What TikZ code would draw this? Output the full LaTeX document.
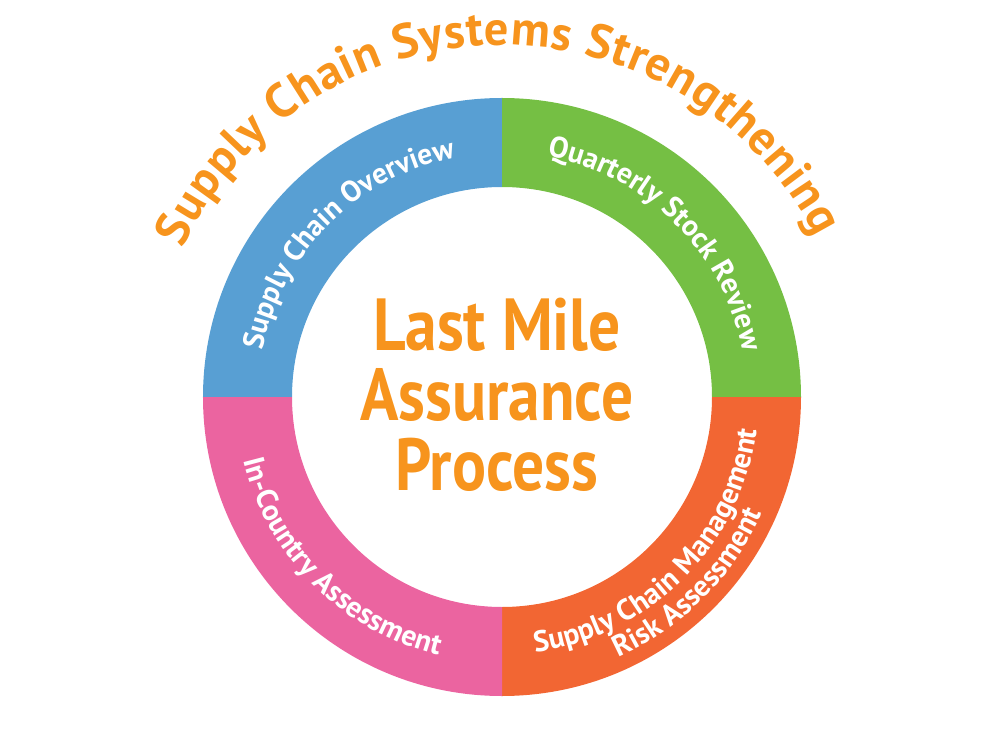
\documentclass[tikz,border=0pt]{standalone}
\usepackage{fontspec}
\setmainfont{PT Sans}
\newfontfamily\ringfamily{PT Sans}
\newfontfamily\corefamily{PT Sans}[FakeStretch=0.86]
\usetikzlibrary{decorations.text,positioning}
\definecolor{overviewblue}{HTML}{589FD3}
\definecolor{stockgreen}{HTML}{75BF44}
\definecolor{riskorange}{HTML}{F26633}
\definecolor{countrypink}{HTML}{EB64A0}
\definecolor{titleorange}{HTML}{F7941D}
\newcommand{\bandfont}{\ringfamily\bfseries\fontsize{16.8pt}{18pt}\selectfont}
\newcommand{\titlefont}{\ringfamily\bfseries\fontsize{27.5pt}{30pt}\selectfont}

\begin{document}
\begin{tikzpicture}[
  x=0.02cm,y=0.02cm,
  bandtext/.style={decorate,decoration={text along path,text align=center,
    text={|\bandfont\color{white}|#1}}},
  arctitle/.style={decorate,decoration={text along path,text align=fit to path,
    text={|\titlefont\color{titleorange}|#1}}},
  core/.style={align=center,text=titleorange,
    font=\corefamily\bfseries\fontsize{42pt}{40pt}\selectfont}
]
\useasboundingbox (-502,-353) rectangle (498,397);

% ring quarters
\fill[overviewblue] (180:299) arc (180:90:299) -- (90:210) arc (90:180:210) -- cycle;
\fill[stockgreen] (90:299) arc (90:0:299) -- (0:210) arc (0:90:210) -- cycle;
\fill[riskorange] (0:299) arc (0:-90:299) -- (-90:210) arc (-90:0:210) -- cycle;
\fill[countrypink] (-90:299) arc (-90:-180:299) -- (-180:210) arc (-180:-90:210) -- cycle;

% labels along the ring
\path[bandtext={Supply Chain Overview}] (180:244) arc (180:90:244);
\path[bandtext={Quarterly Stock Review}] (90:245) arc (90:0:245);
\path[bandtext={In-Country Assessment}] (180:266) arc (180:270:266);
\path[bandtext={Supply Chain Management}] (270:257) arc (270:360:257);
\path[bandtext={Risk Assessment}] (270:285) arc (270:360:285);

% title arc
\path[arctitle={Supply Chain Systems Strengthening}] (155:352) arc (155:27:352);

\node[core] (process) at (-5,2) {Last Mile\\Assurance\\Process};
\end{tikzpicture}
\end{document}
